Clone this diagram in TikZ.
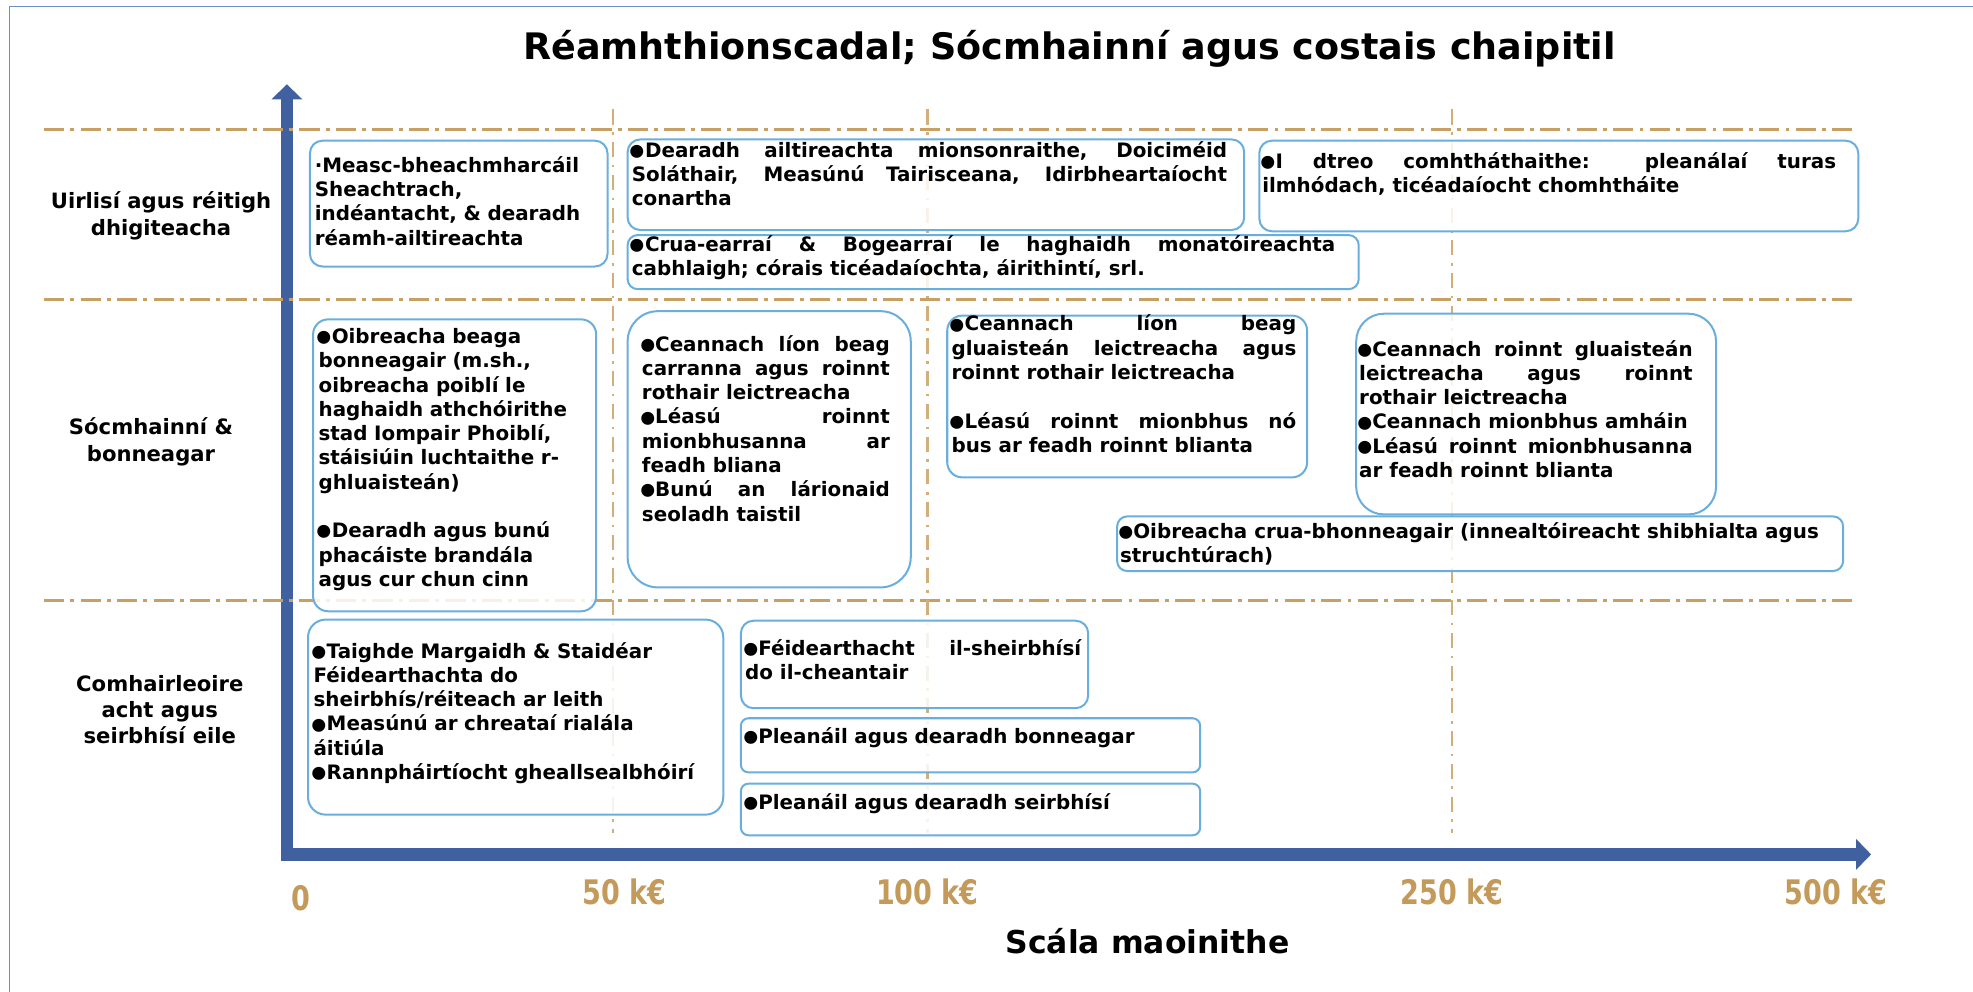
\documentclass[tikz,border=0pt]{standalone}
\usepackage{fontspec}
\usepackage{graphicx}
\setmainfont{DejaVu Sans}
\usetikzlibrary{arrows.meta}

\definecolor{boxblue}{HTML}{6AAEDE}
\definecolor{dashtan}{HTML}{C9A063}
\definecolor{axisblue}{HTML}{41609F}
\definecolor{frameblue}{HTML}{6A90C8}
\definecolor{ticktan}{HTML}{C49A5A}

\newcommand{\bodyfont}{\bfseries\fontsize{15.8pt}{19.3pt}\selectfont\hyphenpenalty=10000\tolerance=9999\relax}
\newcommand{\tall}[1]{\scalebox{1}[1.25]{#1}}
\newcommand{\bul}{\leavevmode\hbox{\kern-0.3em\smash{\raisebox{-0.41em}{\scalebox{1.85}{•}}}\kern-0.22em}}

\tikzset{
  frame/.style={frameblue, line width=1.2pt},
  gridline/.style={dashtan, line width=2.2pt, dash pattern=on 16pt off 5pt on 3pt off 5pt},
  vgrid/.style={dashtan!85, line width=1.8pt, dash pattern=on 12pt off 6pt on 2pt off 6pt},
  axis/.style={axisblue, line width=10pt, line join=miter,
    {Triangle[width=24pt,length=12pt]}-{Triangle[width=24pt,length=12pt]}},
  box/.style={draw=boxblue, line width=1.6pt, fill=white, fill opacity=0.85,
    anchor=north west, inner sep=0pt, rounded corners=10pt},
  txt/.style={anchor=base west, inner sep=0pt, font=\bodyfont, align=justify},
  rowlabel/.style={align=center, font=\bfseries\fontsize{16.8pt}{21pt}\selectfont},
  tick/.style={ticktan, font=\bfseries\fontsize{21.5pt}{24pt}\selectfont}
}

\begin{document}
\begin{tikzpicture}[x=1pt, y=-1pt]
\useasboundingbox (0,0) rectangle (1568,788);
\draw[frame] (7.5,788) -- (7.5,5) -- (1568,5);

\node[font=\bfseries\fontsize{29pt}{32pt}\selectfont, anchor=base] (title) at (850,47)
  {Réamhthionscadal; Sócmhainní agus costais chaipitil};

\coordinate (origin) at (228,679);
\coordinate (ytip) at (228,67);
\coordinate (xtip) at (1487,679);
\draw[axis] (xtip) -- (origin) -- (ytip);

\foreach \y in {103,238,477}
  \draw[gridline] (35,\y) -- (1475,\y);
\foreach \x in {487,737,1154}
  \draw[vgrid] (\x,87) -- (\x,662);

\node[rowlabel] (digital) at (128,171.5) {Uirlisí agus réitigh\\dhigiteacha};
\node[rowlabel] (assets) at (120,351) {Sócmhainní \&\\bonneagar};
\node[rowlabel] (consult) at (127,564) {Comhairleoire\\acht agus\\seirbhísí eile};

\node[tick] (k0) at (239,714) {\tall{0}};
\foreach \x/\t in {496/50, 737/100, 1154/250, 1459/500}
  \node[tick] (k\t) at (\x,709) {\tall{\t~k€}};
\node[font=\bfseries\fontsize{25pt}{28pt}\selectfont] (scale) at (912,748) {Scála maoinithe};

\node[box, minimum width=236.5pt, minimum height=100pt] (b1) at (245.5,111) {};
\node[box, minimum width=490pt, minimum height=72pt] (b2) at (498,110) {};
\node[box, minimum width=476pt, minimum height=72pt] (b4) at (1000,111) {};
\node[box, minimum width=581pt, minimum height=43pt, rounded corners=8pt] (b3) at (498,186) {};
\node[box, minimum width=225pt, minimum height=232pt, rounded corners=12pt] (b5) at (248,253) {};
\node[box, minimum width=225pt, minimum height=219.5pt, rounded corners=24pt] (b6) at (498,246.5) {};
\node[box, minimum width=286pt, minimum height=128.6pt, rounded corners=12pt] (b7) at (752,250) {};
\node[box, minimum width=286pt, minimum height=159.5pt, rounded corners=22pt] (b8) at (1077,248.5) {};
\node[box, minimum width=577pt, minimum height=43.4pt, rounded corners=8pt] (b9) at (887,409.6) {};
\node[box, minimum width=330pt, minimum height=155pt, rounded corners=14pt] (b10) at (244,491.6) {};
\node[box, minimum width=276pt, minimum height=69.5pt] (b11) at (588,492.5) {};
\node[box, minimum width=365pt, minimum height=43pt, rounded corners=6pt] (b12) at (588,570) {};
\node[box, minimum width=365pt, minimum height=41pt, rounded corners=6pt] (b13) at (588,622) {};

\node[txt, align=left, text width=230pt] (t1) at (250,137)
  {·Measc-bheachmharcáil\\Sheachtrach,\\indéantacht, \& dearadh\\réamh-ailtireachta};
\node[txt, text width=473pt] (t2) at (502,125)
  {\bul Dearadh ailtireachta mionsonraithe, Doiciméid\linebreak Soláthair, Measúnú Tairisceana, Idirbheartaíocht\linebreak conartha};
\node[txt, text width=559pt] (t3) at (502,200)
  {\bul Crua-earraí \& Bogearraí le haghaidh monatóireachta\linebreak cabhlaigh; córais ticéadaíochta, áirithintí, srl.};
\node[txt, text width=456pt] (t4) at (1003,134)
  {\bul I dtreo comhtháthaithe: pleanálaí turas\linebreak ilmhódach, ticéadaíocht chomhtháite};
\node[txt, align=left, text width=220pt] (t5) at (253,273)
  {\bul Oibreacha beaga\\bonneagair (m.sh.,\\oibreacha poiblí le\\haghaidh athchóirithe\\stad Iompair Phoiblí,\\stáisiúin luchtaithe r-\\ghluaisteán)\\[19.3pt]\bul Dearadh agus bunú\\phacáiste brandála\\agus cur chun cinn};
\node[txt, text width=197pt] (t6) at (510,279)
  {\bul Ceannach líon beag\linebreak carranna agus roinnt\linebreak rothair leictreacha\par
   \bul Léasú roinnt\linebreak mionbhusanna ar\linebreak feadh bliana\par
   \bul Bunú an lárionaid\linebreak seoladh taistil};
\node[txt, text width=274pt] (t7) at (756,263)
  {\bul Ceannach líon beag\linebreak gluaisteán leictreacha agus\linebreak roinnt rothair leictreacha\\[19.3pt]\bul Léasú roinnt mionbhus nó\linebreak bus ar feadh roinnt blianta};
\node[txt, text width=265pt] (t8) at (1080,283)
  {\bul Ceannach roinnt gluaisteán\linebreak leictreacha agus roinnt\linebreak rothair leictreacha\par
   \bul Ceannach mionbhus amháin\par
   \bul Léasú roinnt mionbhusanna\linebreak ar feadh roinnt blianta};
\node[txt, text width=566pt] (t9) at (890,428)
  {\bul Oibreacha crua-bhonneagair (innealtóireacht shibhialta agus\\struchtúrach)};
\node[txt, align=left, text width=320pt] (t10) at (249,523)
  {\bul Taighde Margaidh \& Staidéar\\Féidearthachta do\\sheirbhís/réiteach ar leith\\\bul Measúnú ar chreataí rialála\\áitiúla\\\bul Rannpháirtíocht gheallsealbhóirí};
\node[txt, text width=267pt] (t11) at (592,521)
  {\bul Féidearthacht il-sheirbhísí\linebreak do il-cheantair};
\node[txt, align=left, text width=355pt] (t12) at (592,591) {\bul Pleanáil agus dearadh bonneagar};
\node[txt, align=left, text width=355pt] (t13) at (592,643) {\bul Pleanáil agus dearadh seirbhísí};
\end{tikzpicture}
\end{document}
